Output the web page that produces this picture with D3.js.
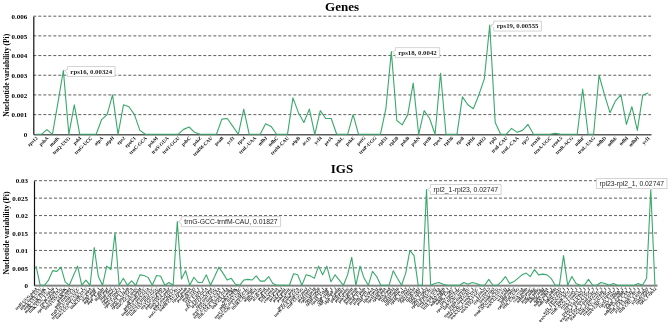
<!DOCTYPE html>
<html>
<head>
<meta charset="utf-8">
<script src="https://cdn.jsdelivr.net/npm/d3@7"></script>
<style>
  body { margin: 0; background: #fff; }
  svg { display: block; will-change: transform; }
</style>
</head>
<body>
<svg id="chart" width="669" height="335"></svg>
<script>
// ---- data ----
const geneNames = [
  "rps12","trnH-GUG","psbA","trnK-UUU","matK","rps16","trnQ-UUG","psbK","psbI","trnS-GCU",
  "trnG-UCC","trnR-UCU","atpA","atpF","atpH","atpI","rps2","rpoC2","rpoC1","rpoB",
  "trnC-GCA","petN","psbM","trnD-GUC","trnY-GUA","trnE-UUC","trnT-GGU","psbD","psbC","trnS-UGA",
  "psbZ","trnG-GCC","trnfM-CAU","rps14","psaB","psaA","ycf3","trnS-GGA","rps4","trnT-UGU",
  "trnL-UAA","trnF-GAA","ndhJ","ndhK","ndhC","trnV-UAC","trnM-CAU","atpE","atpB","rbcL",
  "accD","psaI","ycf4","cemA","petA","psbJ","psbL","psbF","psbE","petL",
  "petG","trnW-CCA","trnP-UGG","psaJ","rpl33","rps18","rpl20","clpP","psbB","psbT",
  "psbN","psbH","petB","petD","rpoA","rps11","rpl36","infA","rps8","rpl14",
  "rpl16","rps3","rpl22","rps19","rpl2","rpl23","trnI-CAU","ycf2","trnL-CAA","ndhB",
  "rps7","trnV-GAC","rrn16","trnI-GAU","trnA-UGC","rrn23","rrn4.5","rrn5","trnR-ACG","trnN-GUU",
  "ndhF","rpl32","trnL-UAG","ccsA","ndhD","psaC","ndhE","ndhG","ndhI","ndhA",
  "ndhH","rps15","ycf1"
];
const genePi = [
  0,0,0.00024,0,0.0016,0.00324,0,0.0015,0,0,
  0,0,0.00075,0.001,0.002,0,0.0015,0.0014,0.001,0.0002,
  0,0,0,0,0,0,0,0.00025,0.00037,0.0001,
  0,0,0,0,0.00077,0.0008,0.0004,0,0.00128,0,
  0,0,0.00053,0.0004,0,0,0,0.00185,0.0011,0.0006,
  0.00128,0,0.0012,0.0008,0.0008,0,0,0,0.001,0,
  0,0,0,0,0.0013,0.0042,0.0007,0.00048,0.001,0.0026,
  0,0.0012,0.0008,0,0.0031,0,0,0,0.0019,0.0015,
  0.0013,0.002,0.0028,0.00555,0.0006,0,0,0.0003,0.0001,0.0002,
  0.0005,0,0,0,0,0.00005,0,0,0,0,
  0.0023,0,0,0.003,0.002,0.0011,0.0017,0.002,0.0005,0.0014,
  0.0002,0.002,0.0021
];
const geneTicks = [0, 0.001, 0.002, 0.003, 0.004, 0.005, 0.006];
const geneNotes = [5, 65, 83];

const igsNames = [
  "trnH-GUG-psbA","psbA-trnK-UUU","trnK-UUU-matK","matK-trnK-UUU_1","trnK-UUU_1-rps16","rps16-rps16_1","rps16_1-trnQ-UUG","trnQ-UUG-psbK","psbK-psbI","psbI-trnS-GCU",
  "trnS-GCU-trnG-UCC","trnG-UCC-trnG-UCC_1","trnG-UCC_1-trnR-UCU","trnR-UCU-atpA","atpA-atpF","atpF-atpF_1","atpF_1-atpH","atpH-atpI","atpI-rps2","rps2-rpoC2",
  "rpoC2-rpoC1","rpoC1-rpoC1_1","rpoC1_1-rpoB","rpoB-trnC-GCA","trnC-GCA-petN","petN-psbM","psbM-trnD-GUC","trnD-GUC-trnY-GUA","trnY-GUA-trnE-UUC","trnE-UUC-trnT-GGU",
  "trnT-GGU-psbD","psbC-trnS-UGA","trnS-UGA-psbZ","psbZ-trnG-GCC","trnG-GCC-trnfM-CAU","trnfM-CAU-rps14","rps14-psaB","psaB-psaA","psaA-ycf3","ycf3-ycf3_1",
  "ycf3_1-ycf3_2","ycf3_2-trnS-GGA","trnS-GGA-rps4","rps4-trnT-UGU","trnT-UGU-trnL-UAA","trnL-UAA-trnL-UAA_1","trnL-UAA_1-trnF-GAA","trnF-GAA-ndhJ","ndhJ-ndhK","ndhC-trnV-UAC",
  "trnV-UAC-trnV-UAC_1","trnV-UAC_1-trnM-CAU","trnM-CAU-atpE","atpB-rbcL","rbcL-accD","accD-psaI","psaI-ycf4","ycf4-cemA","cemA-petA","petA-psbJ",
  "psbJ-psbL","psbE-petL","petL-petG","petG-trnW-CCA","trnW-CCA-trnP-UGG","trnP-UGG-psaJ","psaJ-rpl33","rpl33-rps18","rps18-rpl20","rpl20-rps12_1",
  "rps12_1-clpP","clpP-clpP_1","clpP_1-clpP_2","clpP_2-psbB","psbB-psbT","psbT-psbN","psbN-psbH","psbH-petB","petB-petB_1","petB_1-petD",
  "petD-petD_1","petD_1-rpoA","rpoA-rps11","rps11-rpl36","rpl36-infA","infA-rps8","rps8-rpl14","rpl14-rpl16","rpl16-rpl16_1","rpl16_1-rps3",
  "rps3-rpl22","rpl22-rps19","rps19-rpl2","rpl2-rpl2_1","rpl2_1-rpl23","rpl23-trnI-CAU","trnI-CAU-ycf2","ycf2-trnL-CAA","trnL-CAA-ndhB","ndhB-ndhB_1",
  "ndhB_1-rps7","rps7-rps12_2","rps12_2-trnV-GAC","trnV-GAC-rrn16","rrn16-trnI-GAU","trnI-GAU-trnI-GAU_1","trnI-GAU_1-trnA-UGC","trnA-UGC-trnA-UGC_1","trnA-UGC_1-rrn23","rrn23-rrn4.5",
  "rrn4.5-rrn5","rrn5-trnR-ACG","trnR-ACG-trnN-GUU","trnN-GUU-ycf1","ycf1-ndhF","ndhF-rpl32","rpl32-trnL-UAG","trnL-UAG-ccsA","ccsA-ndhD","ndhD-psaC",
  "psaC-ndhE","ndhE-ndhG","ndhG-ndhI","ndhI-ndhA","ndhA-ndhA_1","ndhA_1-ndhH","ndhH-rps15","rps15-ycf1_1","ycf1_1-trnN-GUU_1","trnN-GUU_1-trnR-ACG_1",
  "trnR-ACG_1-rrn5_1","rrn5_1-rrn4.5_1","rrn4.5_1-rrn23_1","rrn23_1-trnA-UGC_2","trnA-UGC_2-trnA-UGC_3","trnA-UGC_3-trnI-GAU_2","trnI-GAU_2-trnI-GAU_3","trnI-GAU_3-rrn16_1","rrn16_1-trnV-GAC_1","trnV-GAC_1-rps12_3",
  "rps12_3-rps7_1","rps7_1-ndhB_2","ndhB_2-ndhB_3","ndhB_3-trnL-CAA_1","trnL-CAA_1-ycf2_1","ycf2_1-trnI-CAU_1","trnI-CAU_1-ycf2_2","ycf2_2-rpl23","rpl23-rpl2_1","rpl2_1-rps12"
];
const igsPi = [
  0.0055,0,0,0.0015,0.0042,0.004,0.0052,0.001,0,0.0028,
  0.0055,0,0.0015,0,0.0108,0.0025,0,0.0055,0.0045,0.015,
  0,0.002,0,0.0013,0,0.003,0.0028,0.0022,0,0.0028,
  0.0026,0,0.0008,0,0.01827,0.0018,0.0042,0,0.0023,0.0008,
  0.0008,0.003,0,0.0025,0.0052,0.0035,0.0015,0.002,0.0003,0,
  0.0015,0.0017,0.0015,0.0027,0.0012,0.0012,0.0025,0.0005,0,0,
  0,0,0.0033,0.003,0,0.003,0.0027,0.002,0.0055,0.003,
  0.0055,0.001,0.003,0.0015,0,0.003,0.008,0,0.0055,0.002,
  0,0.004,0.0025,0,0,0,0.0042,0.002,0,0.0035,
  0.01,0.0085,0,0,0.02747,0,0.0005,0.0008,0.0003,0,
  0,0,0,0.0008,0.0003,0.0008,0.0005,0,0,0.0017,
  0,0,0.001,0.0025,0.0005,0.001,0.002,0.003,0.0035,0.0025,
  0.0045,0.003,0.0032,0.003,0.002,0,0,0.0085,0,0.0025,
  0.0005,0,0,0.0017,0,0,0.0008,0.0005,0,0.0005,
  0,0,0,0,0,0.0005,0,0.002,0.02747,0
];
const igsTicks = [0, 0.005, 0.01, 0.015, 0.02, 0.025, 0.03];
const igsNotes = [34, 94, 148];

// ---- drawing ----
const svg = d3.select("#chart");
const green = "#3aa86c";
const serif = "'Liberation Serif', 'Times New Roman', serif";
const sans = "'Liberation Sans', Arial, sans-serif";

function panel(cfg) {
  const g = svg.append("g");
  const n = cfg.names.length;
  const x = d3.scaleBand().domain(d3.range(n)).range(cfg.xr);
  const cx = i => x(i) + x.bandwidth() / 2;
  const y = d3.scaleLinear().domain([0, cfg.ticks[cfg.ticks.length - 1]]).range(cfg.yr);

  // dashed grid
  g.append("g").selectAll("line")
    .data(cfg.ticks.slice(1))
    .join("line")
    .attr("x1", cfg.xr[0]).attr("x2", cfg.xr[1])
    .attr("y1", d => y(d)).attr("y2", d => y(d))
    .attr("stroke", "#4d4d4d")
    .attr("stroke-width", 0.9)
    .attr("stroke-dasharray", "3,2");

  // y axis
  const ya = g.append("g")
    .attr("transform", `translate(${cfg.xr[0]},0)`)
    .call(d3.axisLeft(y).tickValues(cfg.ticks).tickSize(0).tickPadding(6)
      .tickFormat(d => String(d)));
  ya.select(".domain").attr("stroke", "#111").attr("stroke-width", 1.2);
  ya.selectAll("text")
    .attr("font-family", serif).attr("font-weight", "bold")
    .attr("font-size", 7).attr("fill", "#000");

  // x axis with rotated labels
  const xa = g.append("g")
    .attr("opacity", 0.99)
    .attr("transform", `translate(0,${cfg.yr[0]})`)
    .call(d3.axisBottom(x).tickValues(d3.range(0, n, cfg.step)).tickSize(0)
      .tickFormat(i => cfg.names[i]));
  xa.select(".domain").attr("stroke", "#5a5a5a").attr("stroke-width", 1.4);
  xa.selectAll("text")
    .attr("font-family", serif).attr("font-weight", "bold")
    .attr("font-size", cfg.labelSize).attr("fill", "#000")
    .attr("text-anchor", "end")
    .attr("x", -1.5).attr("y", 2.5).attr("dy", "0.35em")
    .attr("transform", "rotate(-45)");

  // line
  const line = d3.line().x((d, i) => cx(i)).y(d => y(d));
  g.append("path")
    .datum(cfg.values)
    .attr("d", line)
    .attr("fill", "none")
    .attr("stroke", green)
    .attr("stroke-width", 1.1)
    .attr("stroke-linejoin", "round");

  // title
  g.append("text")
    .attr("x", 342).attr("y", cfg.titleY)
    .attr("text-anchor", "middle")
    .attr("font-family", serif).attr("font-weight", "bold")
    .attr("font-size", 13).attr("fill", "#000")
    .text(cfg.title);

  // y axis title
  g.append("text")
    .attr("transform", `translate(9,${(cfg.yr[0] + cfg.yr[1]) / 2}) rotate(-90)`)
    .attr("text-anchor", "middle")
    .attr("font-family", serif).attr("font-weight", "bold")
    .attr("font-size", 7.5).attr("fill", "#000")
    .text("Nucleotide variability (Pi)");

  // callouts
  cfg.notes.forEach((idx, k) => {
    const px = cx(idx), py = y(cfg.values[idx]);
    const nt = g.append("g").attr("opacity", 0.99);
    const txt = nt.append("text")
      .attr("font-family", cfg.noteFont).attr("font-weight", cfg.noteWeight)
      .attr("font-size", cfg.noteSize).attr("fill", "#222")
      .text(cfg.names[idx] + ", " + cfg.values[idx]);
    const tw = txt.node().getComputedTextLength();
    const w = tw + 6, h = 10;
    let bx, by, p;
    if (cfg.above && k === cfg.notes.length - 1) {
      bx = Math.min(px - w * 0.55, 667 - w);
      by = py - h - 1;
      p = `M${bx},${by}H${bx + w}V${by + h}H${px + 3}L${px},${py}L${px - 1},${by + h}H${bx}Z`;
    } else {
      bx = px + 4;
      by = py - h / 2 + (cfg.noteDy || 0);
      const cy = by + h / 2;
      p = `M${bx},${by}H${bx + w}V${by + h}H${bx}V${cy + 2}L${px + 1},${py}L${bx},${cy - 2}Z`;
    }
    nt.insert("path", "text")
      .attr("d", p)
      .attr("fill", "#fff")
      .attr("stroke", "#c8c8c8")
      .attr("stroke-width", 0.8);
    txt.attr("x", bx + 3).attr("y", by + h / 2).attr("dy", "0.35em");
  });
}

panel({
  title: "Genes", titleY: 11,
  names: geneNames, values: genePi, ticks: geneTicks, notes: geneNotes,
  xr: [33.3, 651], yr: [134.3, 16.2], step: 2, labelSize: 5,
  noteFont: serif, noteWeight: "bold", noteSize: 6.8, noteDy: 1
});

panel({
  title: "IGS", titleY: 173,
  names: igsNames, values: igsPi, ticks: igsTicks, notes: igsNotes,
  xr: [34, 657], yr: [285.3, 180.7], step: 1, labelSize: 4.1,
  noteFont: sans, noteWeight: "normal", noteSize: 6.8, above: true
});
</script>
</body>
</html>
